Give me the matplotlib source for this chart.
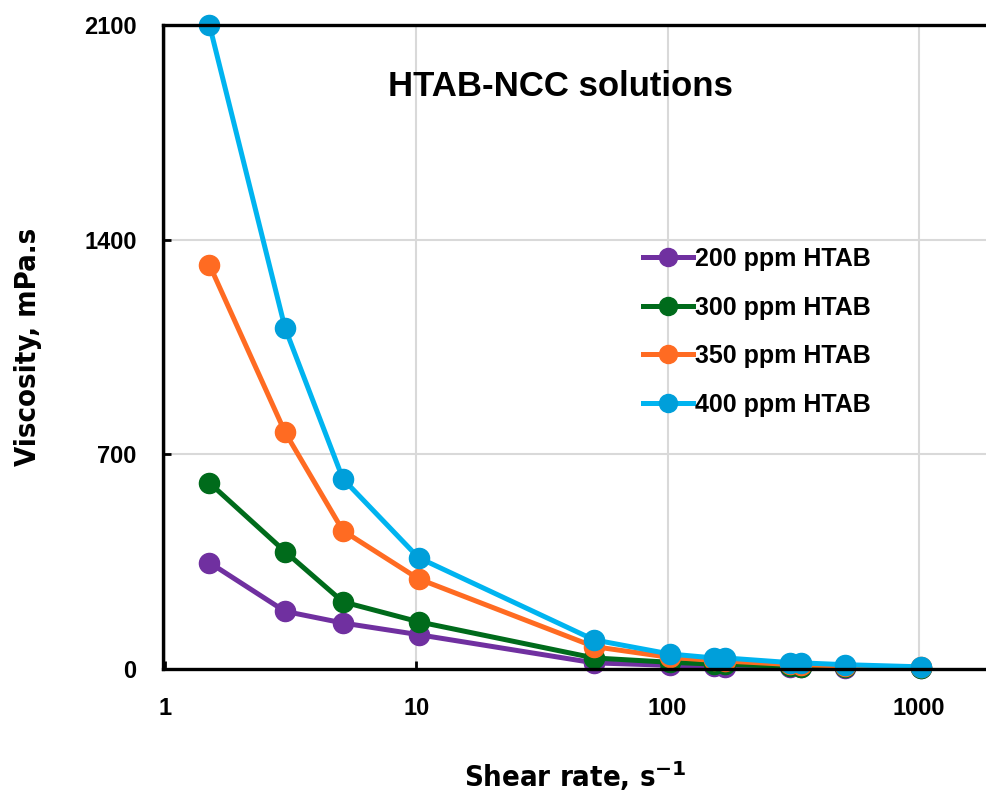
import matplotlib
matplotlib.use("Agg")
from matplotlib import pyplot as plt
from matplotlib.ticker import FixedLocator, NullLocator

# shear rates, 1/s
shear = [1.5, 3, 5.1, 10.2, 51, 102, 153, 170, 306, 340, 511, 1022]

# viscosity, mPa.s
visc_200 = [347, 188, 150, 112, 20, 12, 9, 8, 5, 5, 4, 2]
visc_300 = [607, 383, 219, 154, 36, 22, 16, 15, 9, 8, 6, 3]
visc_350 = [1318, 772, 451, 294, 73, 38, 28, 26, 15, 14, 10, 5]
visc_400 = [2100, 1112, 620, 363, 95, 49, 36, 36, 21, 20, 14, 7]

labels = ["200 ppm HTAB", "300 ppm HTAB", "350 ppm HTAB", "400 ppm HTAB"]
line_cols = ["#7030A0", "#006B1B", "#FF6B22", "#00B4F0"]
mark_cols = ["#7030A0", "#006B1B", "#FF6B22", "#009FDA"]

x_ticks = [1, 10, 100, 1000]
y_ticks = [0, 700, 1400, 2100]

fig = plt.figure(figsize=(9.87, 7.97), dpi=100)
ax = fig.add_axes([163 / 987, 128 / 797, 1 - 163 / 987, 644 / 797])

for v, lab, lc, mc in zip([visc_200, visc_300, visc_350, visc_400], labels, line_cols, mark_cols):
    ax.plot(shear, v, color=lc, lw=3.6, marker="o", ms=14.5, mfc=mc, mec=mc,
            label=lab, clip_on=False)

ax.set_xscale("log")
ax.set_xlim(0.98, 1870)
ax.set_ylim(0, 2100)
ax.xaxis.set_major_locator(FixedLocator(x_ticks))
ax.xaxis.set_minor_locator(NullLocator())
ax.set_xticklabels([str(t) for t in x_ticks])
ax.set_yticks(y_ticks)
ax.set_yticklabels([str(t) for t in y_ticks])

ax.grid(True, color="#D9D9D9", lw=1.5)
ax.set_axisbelow(True)

for s in ["left", "bottom", "top"]:
    ax.spines[s].set_linewidth(2.4)
ax.spines["right"].set_visible(False)

ax.tick_params(direction="in", length=6, width=2)
ax.tick_params(axis="x", pad=20)
ax.tick_params(axis="y", pad=19)
for t in ax.get_xticklabels() + ax.get_yticklabels():
    t.set_fontfamily("Liberation Sans")
    t.set_fontweight("bold")
    t.set_fontsize(17)

cond = ["Liberation Sans Narrow", "DejaVu Sans"]
ax.set_xlabel("Shear rate, s$^{\\mathbf{-1}}$", family=cond, fontweight="bold",
              fontsize=21, fontstretch="condensed", labelpad=28)
ax.set_ylabel("Viscosity, mPa.s", family=cond, fontweight="bold",
              fontsize=21, fontstretch="condensed", labelpad=30)

ax.text(0.482, 0.905, "HTAB-NCC solutions", transform=ax.transAxes, ha="center",
        va="center", family="Liberation Sans", fontweight="bold", fontsize=25)

leg = ax.legend(loc="upper left", bbox_to_anchor=(0.582, 0.655), frameon=False,
                borderpad=0, borderaxespad=0, handlelength=2.0, handletextpad=0.1,
                labelspacing=0.98, prop={"family": "Liberation Sans", "weight": "bold", "size": 18})
for h in leg.legend_handles:
    h.set_markersize(13)

fig.savefig("out.png", dpi=100)
